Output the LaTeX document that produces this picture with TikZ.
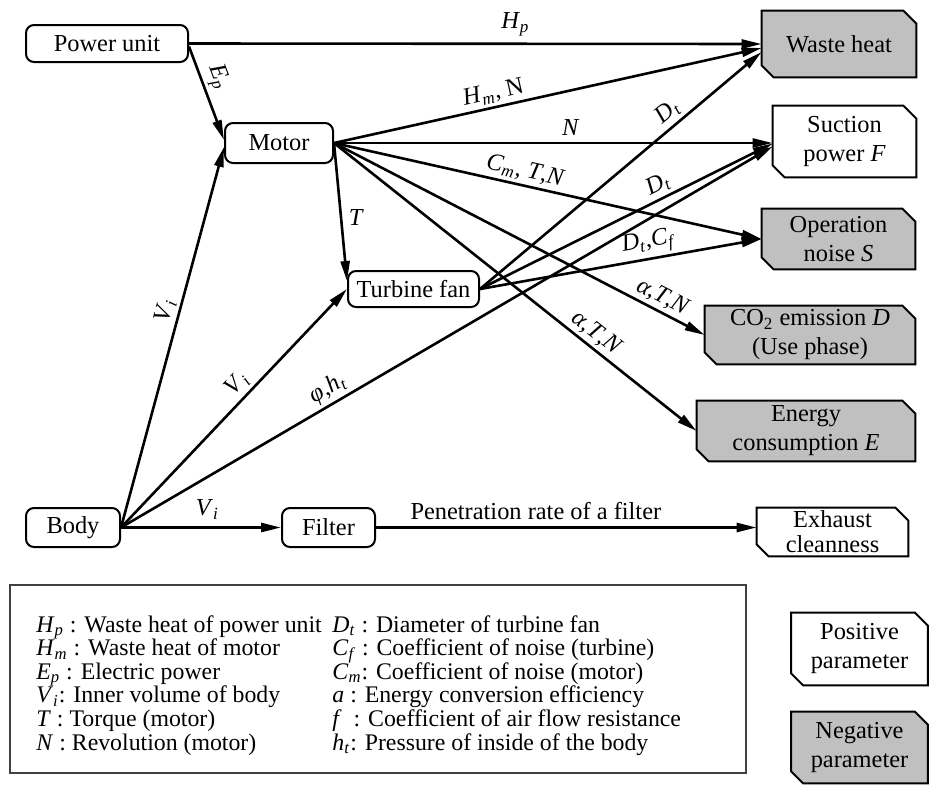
\documentclass[tikz,border=0pt]{standalone}
\usepackage{fontspec}
\setmainfont{Liberation Serif}
\usetikzlibrary{arrows.meta,backgrounds}
\definecolor{boxgray}{RGB}{192,192,192}
\newcommand{\vr}[2]{\textit{#1}\textsubscript{\textit{#2}}}
\begin{document}
\begin{tikzpicture}[x=0.5pt,y=-0.5pt, font=\fontsize{12.2}{14.5}\selectfont,
 rbox/.style={draw, line width=1pt, rounded corners=4pt, fill=white, inner sep=0pt},
 cbox/.style={inner sep=0pt, align=center},
 arr/.style={line width=1.3pt, -{Triangle[length=10pt,width=4.5pt]}},
 lab/.style={sloped, above, inner sep=1.5pt},
 leg/.style={anchor=base west, inner sep=0pt, font=\fontsize{11.9}{13}\selectfont}]
\useasboundingbox (0,0) rectangle (930,804);

% rounded boxes
\node[rbox, minimum width=81pt, minimum height=18.5pt] (pu) at (107,43.5) {Power unit};
\node[rbox, minimum width=54pt, minimum height=20pt] (mo) at (279,143) {Motor};
\node[rbox, minimum width=65.5pt, minimum height=18pt] (tf) at (413.5,289) {Turbine fan};
\node[rbox, minimum width=47pt, minimum height=19.5pt] (bo) at (73,527.5) {Body};
\node[rbox, minimum width=46.5pt, minimum height=19.5pt] (fi) at (328.5,527.5) {Filter};

% chamfered boxes
\node[cbox, minimum width=77pt, minimum height=33pt] (wh) at (839,44) {Waste heat};
\node[cbox, minimum width=71.5pt, minimum height=35.5pt] (sp) at (844.5,141.5) {Suction\\power \textit{F}};
\node[cbox, minimum width=76.5pt, minimum height=30pt] (on) at (838.5,239) {Operation\\noise \textit{S}};
\node[cbox, minimum width=105pt, minimum height=29pt] (co) at (810,335) {CO\textsubscript{2} emission \textit{D}\\(Use phase)};
\node[cbox, minimum width=109pt, minimum height=30pt] (en) at (806,431) {Energy\\consumption \textit{E}};
\node[cbox, minimum width=75.5pt, minimum height=24pt, font=\fontsize{12.2}{12.6}\selectfont] (ex) at (832.5,532) {Exhaust\\cleanness};
\node[cbox, minimum width=68pt, minimum height=36pt] (pos) at (859.5,649) {Positive\\parameter};
\node[cbox, minimum width=68pt, minimum height=35.5pt] (neg) at (859.5,747.5) {Negative\\parameter};

\begin{scope}[on background layer]
\foreach \n/\f in {wh/boxgray, sp/white, on/boxgray, co/boxgray, en/boxgray, ex/white, pos/white, neg/boxgray}
  \filldraw[fill=\f, line width=1pt] (\n.north west) -- ([xshift=-6.5pt]\n.north east) -- ([yshift=-6.5pt]\n.north east) -- (\n.south east) -- ([xshift=6pt]\n.south west) -- ([yshift=6pt]\n.south west) -- cycle;
\end{scope}

% connectors
\draw[arr] (pu.east) -- node[above, pos=0.57] {\vr{H}{p}} (wh.west);
\draw[arr] ([yshift=-1.5pt]pu.east) -- node[lab, pos=0.39] {\vr{E}{p}} ([yshift=1.5pt]mo.west);
\draw[arr] (mo.east) -- node[lab, pos=0.38] {\vr{H}{m}, N} ([yshift=-2pt]wh.west);
\draw[arr] (mo.east) -- node[above, pos=0.54] {\textit{N}} (mo.east -| sp.west);
\draw[arr] (mo.east) -- node[lab, pos=0.44] {\vr{C}{m}, \textit{T},\textit{N}} (on.west);
\draw[arr] (mo.east) -- node[lab, pos=0.87] {\textit{α},\textit{T},\textit{N}} (co.west);
\draw[arr] (mo.east) -- node[lab, pos=0.70] {\textit{α},\textit{T},\textit{N}} (en.west);
\draw[arr] (mo.east) -- node[right, pos=0.54] {\textit{T}} ([yshift=4pt]tf.west);
\draw[arr] (tf.east) -- node[lab, pos=0.70] {\vr{D}{t}} ([yshift=-4pt]wh.west);
\draw[arr] (tf.east) -- node[lab, pos=0.63] {\vr{D}{t}} ([yshift=-1pt]sp.west);
\draw[arr] (tf.east) -- node[lab, pos=0.61] {\vr{D}{t},\vr{C}{f}} (on.west);
\draw[arr] (bo.east) -- node[lab, pos=0.56] {\vr{V}{i}} ([yshift=-2pt]mo.west);
\draw[arr] (bo.east) -- node[lab, pos=0.56] {\vr{V}{i}} (tf.west);
\draw[arr] (bo.east) -- node[lab, pos=0.33] {\textit{φ},\vr{h}{t}} ([yshift=-2.5pt]sp.west);
\draw[arr] (bo.east) -- node[above, pos=0.54] {\vr{V}{i}} (fi.west);
\draw[arr] (fi.east) -- node[above, pos=0.42] {Penetration rate of a filter} (fi.east -| ex.west);

% legend
\draw[line width=0.7pt, draw=black!75] (10,585) rectangle (746,773);
\node[leg] (l1) at (36,632) {\vr{H}{p} : Waste heat of power unit};
\node[leg] (l2) at (36,655.6) {\vr{H}{m} : Waste heat of motor};
\node[leg] (l3) at (36,679.2) {\vr{E}{p} : Electric power};
\node[leg] (l4) at (36,702.8) {\vr{V}{i}: Inner volume of body};
\node[leg] (l5) at (36,726.4) {\textit{T} : Torque (motor)};
\node[leg] (l6) at (36,750) {\textit{N} : Revolution (motor)};
\node[leg] (r1) at (332,632) {\vr{D}{t} : Diameter of turbine fan};
\node[leg] (r2) at (332,655.6) {\vr{C}{f} : Coefficient of noise (turbine)};
\node[leg] (r3) at (332,679.2) {\vr{C}{m}: Coefficient of noise (motor)};
\node[leg] (r4) at (332,702.8) {\textit{a} : Energy conversion efficiency};
\node[leg] (r5) at (332,726.4) {\textit{f}\ \ : Coefficient of air flow resistance};
\node[leg] (r6) at (332,750) {\vr{h}{t}: Pressure of inside of the body};
\end{tikzpicture}
\end{document}
